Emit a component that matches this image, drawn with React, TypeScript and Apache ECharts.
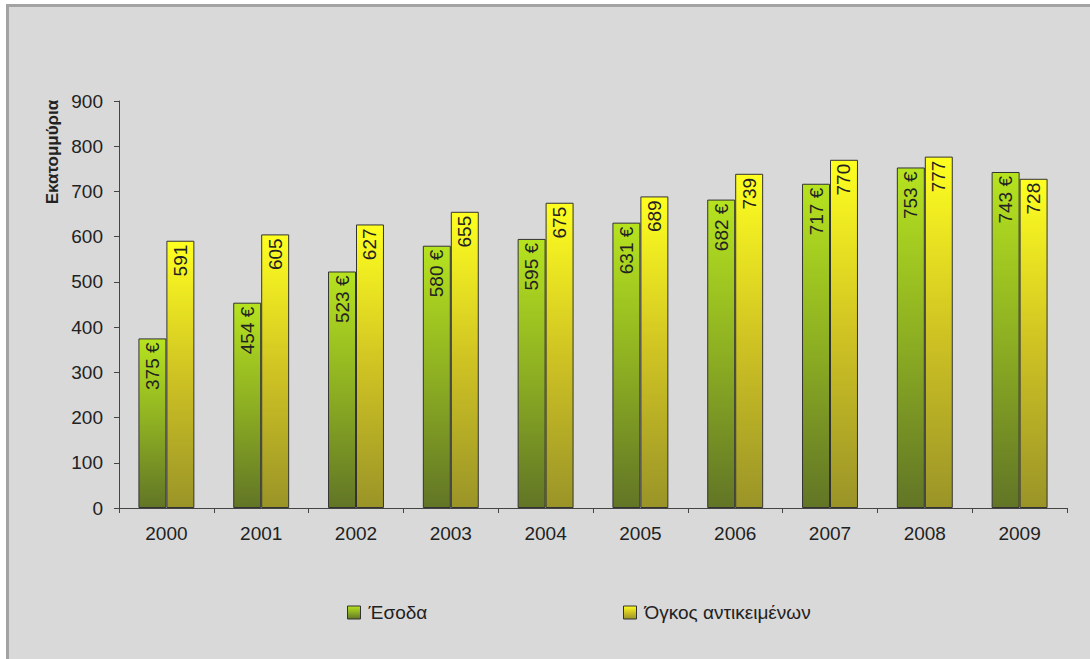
import React, { useEffect, useRef } from "react";
import * as echarts from "echarts";

const years = ["2000", "2001", "2002", "2003", "2004", "2005", "2006", "2007", "2008", "2009"];
const revenue = [375, 454, 523, 580, 595, 631, 682, 717, 753, 743];
const volume = [591, 605, 627, 655, 675, 689, 739, 770, 777, 728];
const seriesNames = ["Έσοδα", "Όγκος αντικειμένων"];
const yAxisTitle = "Εκατομμύρια";

const FONT = "Liberation Sans";

export default function App() {
  const ref = useRef<HTMLDivElement>(null);
  useEffect(() => {
    if (!ref.current) return;
    const chart = echarts.init(ref.current, undefined, { renderer: "svg" });
    const greenGrad = new echarts.graphic.LinearGradient(0, 0, 0, 1, [
      { offset: 0, color: "#b6e31f" },
      { offset: 0.5, color: "#8daf22" },
      { offset: 1, color: "#627526" },
    ]);
    const yellowGrad = new echarts.graphic.LinearGradient(0, 0, 0, 1, [
      { offset: 0, color: "#ffff20" },
      { offset: 0.5, color: "#cfc323" },
      { offset: 1, color: "#9a9428" },
    ]);
    const labelBase = {
      show: true,
      position: "insideTop" as const,
      rotate: 90,
      align: "right" as const,
      verticalAlign: "middle" as const,
      distance: 4,
      color: "#222",
      fontSize: 19,
      fontFamily: FONT,
    };
    const legendText = { fontSize: 19, color: "#222", fontFamily: FONT, padding: [0, 0, 0, 3] };
    const legendIconStyle = { borderColor: "#333", borderWidth: 1 };
    chart.setOption({
      animation: false,
      textStyle: { fontFamily: FONT },
      graphic: [
        {
          type: "rect",
          z: -10,
          shape: { x: 7.5, y: 5.5, width: 1200, height: 800 },
          style: { fill: "#d9d9d9", stroke: "#a3a3a3", lineWidth: 3 },
          silent: true,
        },
        {
          type: "text",
          x: 52,
          y: 152,
          rotation: Math.PI / 2,
          style: {
            text: yAxisTitle,
            fontFamily: FONT,
            fontSize: 17,
            fontWeight: "bold",
            fill: "#222",
            align: "center",
            verticalAlign: "middle",
          },
        },
      ],
      legend: [
        {
          left: 347,
          top: 603,
          padding: 0,
          itemWidth: 13,
          itemHeight: 13,
          textStyle: legendText,
          data: [{ name: seriesNames[0], icon: "rect", itemStyle: legendIconStyle }],
        },
        {
          left: 623,
          top: 603,
          padding: 0,
          itemWidth: 13,
          itemHeight: 13,
          textStyle: legendText,
          data: [{ name: seriesNames[1], icon: "rect", itemStyle: legendIconStyle }],
        },
      ],
      grid: { left: 119, right: 23, top: 101, bottom: 151, containLabel: false },
      xAxis: {
        type: "category",
        data: years,
        axisLine: { lineStyle: { color: "#444", width: 1 } },
        axisTick: { show: true, length: 5, lineStyle: { color: "#444" } },
        axisLabel: { fontSize: 19, color: "#222", margin: 16, fontFamily: FONT },
      },
      yAxis: {
        type: "value",
        min: 0,
        max: 900,
        interval: 100,
        axisLine: { show: true, lineStyle: { color: "#444", width: 1 } },
        axisTick: { show: true, length: 5, lineStyle: { color: "#444" } },
        axisLabel: { fontSize: 19, color: "#222", margin: 16, fontFamily: FONT },
        splitLine: { show: false },
      },
      series: [
        {
          name: seriesNames[0],
          type: "bar",
          data: revenue,
          barWidth: "29.5%",
          barGap: "0%",
          itemStyle: { color: greenGrad, borderColor: "#333", borderWidth: 1 },
          label: { ...labelBase, formatter: "{c} €" },
        },
        {
          name: seriesNames[1],
          type: "bar",
          data: volume,
          barWidth: "29.5%",
          barGap: "0%",
          itemStyle: { color: yellowGrad, borderColor: "#333", borderWidth: 1 },
          label: { ...labelBase, formatter: "{c}" },
        },
      ],
    });
    return () => chart.dispose();
  }, []);
  return (
    <div style={{ position: "fixed", left: 0, top: 0, width: 1090, height: 659, background: "#fff" }}>
      <div ref={ref} style={{ width: 1090, height: 659 }} />
    </div>
  );
}
